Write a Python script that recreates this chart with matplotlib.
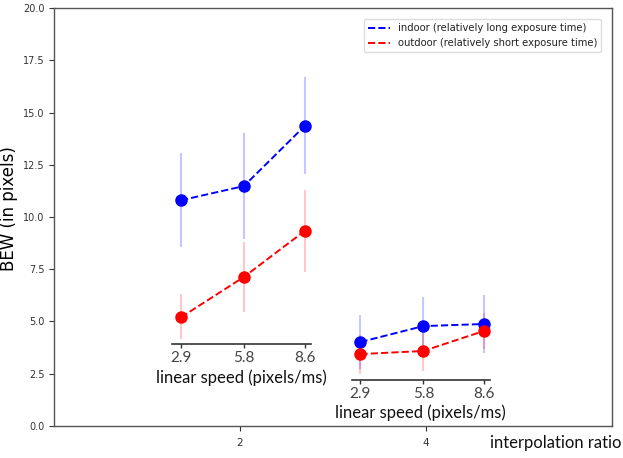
import matplotlib
matplotlib.use("Agg")
import matplotlib.pyplot as plt
import numpy as np
from matplotlib.lines import Line2D

# ---- data ----
ratios = [2, 4]
speeds = [2.9, 5.8, 8.6]
speed_labels = ["2.9", "5.8", "8.6"]

indoor_mean = {2: [10.8, 11.48, 14.35], 4: [4.02, 4.78, 4.88]}
indoor_low = {2: [8.56, 8.95, 12.06], 4: [2.75, 3.4, 3.49]}
indoor_high = {2: [13.06, 14.0, 16.7], 4: [5.31, 6.17, 6.27]}

outdoor_mean = {2: [5.2, 7.13, 9.33], 4: [3.44, 3.59, 4.55]}
outdoor_low = {2: [4.15, 5.45, 7.37], 4: [2.49, 2.63, 3.7]}
outdoor_high = {2: [6.3, 8.8, 11.3], 4: [4.35, 4.55, 5.4]}

# ---- layout (positions of insets in main data coords) ----
inset_left = {2: 1.27, 4: 3.20}
inset_width = 1.49
inset_spine_y = {2: 3.92, 4: 2.2}
label_drop = {2: 1.63, 4: 1.55}
speed_lim = (2.49, 8.88)

fig = plt.figure(figsize=(6.23, 4.58), dpi=100)
ax = fig.add_axes([0.0867, 0.0699, 0.9823 - 0.0867, 0.9825 - 0.0699])
ax.set_xlim(0, 6)
ax.set_ylim(0, 20)
yt = np.arange(0, 20.01, 2.5)
ax.set_yticks(yt)
ax.set_yticklabels([f"{v:.1f}" for v in yt])
ax.set_xticks(ratios)
ax.set_xticklabels([str(r) for r in ratios])
ax.tick_params(labelsize=7, colors="#333333", length=3.5, width=0.8)
ax.tick_params(axis="x", labelsize=7.5, pad=5)
for s in ax.spines.values():
    s.set_color("#555555")
    s.set_linewidth(1.0)
ax.set_ylabel("BEW (in pixels)", fontsize=12)
ax.yaxis.set_label_coords(-0.064, 0.52)
fig.text(0.997, 0.033, "interpolation ratio", fontsize=12, family="Lato",
         ha="right", va="center", color="#111111")

blue = "#0000ff"
red = "#ff0000"
light_blue = (0, 0, 1, 0.22)
light_red = (1, 0, 0, 0.22)

for r in ratios:
    ins = ax.inset_axes([inset_left[r], 0, inset_width, 20], transform=ax.transData)
    ins.set_xlim(*speed_lim)
    ins.set_ylim(0, 20)
    ins.patch.set_alpha(0)
    for k in ["top", "right", "left"]:
        ins.spines[k].set_visible(False)
    ins.spines["bottom"].set_position(("data", inset_spine_y[r]))
    ins.spines["bottom"].set_color("#333333")
    ins.spines["bottom"].set_linewidth(1.2)
    ins.set_yticks([])
    ins.set_xticks(speeds)
    ins.set_xticklabels(speed_labels, family="Lato", fontsize=11, color="#444444")
    ins.tick_params(axis="x", length=3, width=1, colors="#333333", labelcolor="#444444", pad=2)
    ins.set_xlabel("linear speed (pixels/ms)", family="Lato", fontsize=12,
                   color="#111111")
    ins.xaxis.label.set_va("center")
    ins.xaxis.set_label_coords(0.5, (inset_spine_y[r] - label_drop[r]) / 20)

    im, il, ih = np.array(indoor_mean[r]), np.array(indoor_low[r]), np.array(indoor_high[r])
    om, ol, oh = np.array(outdoor_mean[r]), np.array(outdoor_low[r]), np.array(outdoor_high[r])
    ins.errorbar(speeds, im, yerr=[im - il, ih - im], fmt="none", ecolor=light_blue,
                 elinewidth=1.5, zorder=2)
    ins.errorbar(speeds, om, yerr=[om - ol, oh - om], fmt="none", ecolor=light_red,
                 elinewidth=1.5, zorder=2)
    ins.plot(speeds, im, "--", color=blue, lw=1.4, marker="o", ms=8, zorder=3)
    ins.plot(speeds, om, "--", color=red, lw=1.4, marker="o", ms=8, zorder=4)

handles = [Line2D([], [], color=blue, ls="--", lw=1.4),
           Line2D([], [], color=red, ls="--", lw=1.4)]
leg = ax.legend(handles, ["indoor (relatively long exposure time)",
                          "outdoor (relatively short exposure time)"],
                loc="upper right", bbox_to_anchor=(0.99, 0.985), handlelength=2.2,
                prop={"family": "DejaVu Sans", "size": 7.2}, framealpha=1,
                edgecolor="#dddddd")
for t in leg.get_texts():
    t.set_color("#222222")

fig.savefig("out.png", dpi=100)
